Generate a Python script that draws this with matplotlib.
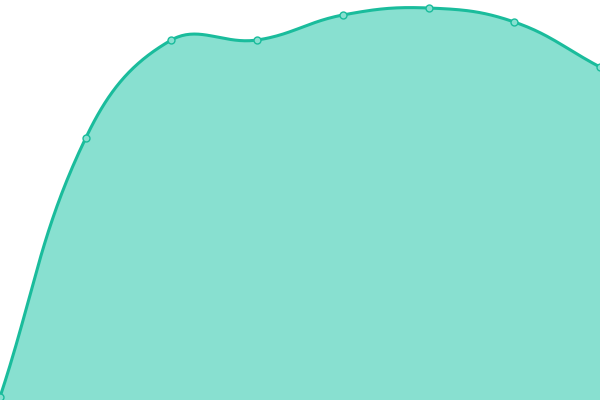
import numpy as np
import matplotlib
matplotlib.use('Agg')
import matplotlib.pyplot as plt

# values (y axis 0..400)
labels = ['1', '2', '3', '4', '5', '6', '7', '8']
values = [3, 262, 360, 360, 385, 392, 378, 333]

W, H = 600, 400
fig = plt.figure(figsize=(6, 4), dpi=100)
ax = fig.add_axes([0, 0, 1, 1])
ax.set_xlim(0, len(labels) - 1)
ax.set_ylim(0, 400)
ax.axis('off')

# chart.js style cubic interpolation (tension 0.4), done in pixel units
x = np.arange(len(values), dtype=float)
px = x * W / (len(values) - 1)
py = np.array(values, dtype=float) * H / 400
tension = 0.4
n = len(px)
cp_prev = []
cp_next = []
for i in range(n):
    a = (px[max(i - 1, 0)], py[max(i - 1, 0)])
    b = (px[i], py[i])
    c = (px[min(i + 1, n - 1)], py[min(i + 1, n - 1)])
    d01 = np.hypot(b[0] - a[0], b[1] - a[1])
    d12 = np.hypot(c[0] - b[0], c[1] - b[1])
    tot = d01 + d12
    s01 = d01 / tot if tot else 0
    s12 = d12 / tot if tot else 0
    fa = tension * s01
    fb = tension * s12
    cp_prev.append((b[0] - fa * (c[0] - a[0]), min(max(b[1] - fa * (c[1] - a[1]), 0), H)))
    cp_next.append((b[0] + fb * (c[0] - a[0]), min(max(b[1] + fb * (c[1] - a[1]), 0), H)))

cx, cy = [], []
t = np.linspace(0, 1, 40)
for i in range(n - 1):
    p0 = np.array([px[i], py[i]])
    p1 = np.array(cp_next[i])
    p2 = np.array(cp_prev[i + 1])
    p3 = np.array([px[i + 1], py[i + 1]])
    seg = ((1 - t) ** 3)[:, None] * p0 + (3 * (1 - t) ** 2 * t)[:, None] * p1 \
        + (3 * (1 - t) * t ** 2)[:, None] * p2 + (t ** 3)[:, None] * p3
    cx.extend(seg[:, 0])
    cy.extend(seg[:, 1])
cx = np.array(cx) * (len(values) - 1) / W
cy = np.array(cy) * 400 / H

ax.fill_between(cx, 0, cy, color='#88e0d0', lw=0, zorder=1)
ax.plot(cx, cy, color='#1abc9c', lw=2.2, zorder=2, solid_capstyle='round')
ax.plot(x, values, 'o', ms=5, mfc='#88e0d0', mec='#1abc9c', mew=1,
        zorder=3, clip_on=False)

plt.savefig('out.png', dpi=100)
plt.close()
